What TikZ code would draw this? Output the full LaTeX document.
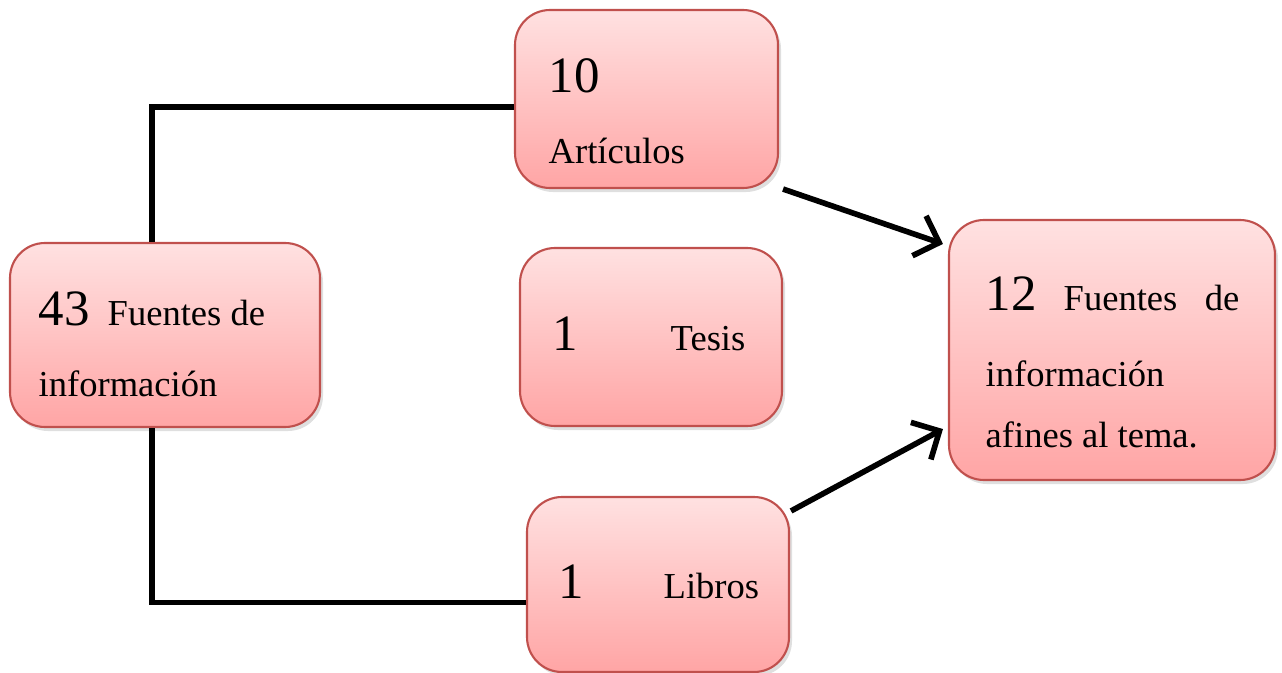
\documentclass[tikz,border=0pt]{standalone}
\usepackage{xcolor}
\usepackage{fontspec}
\setmainfont{Liberation Serif}
\usepackage{tikz}
\usetikzlibrary{arrows.meta,shadows}

\definecolor{boxtop}{HTML}{FFE1E1}
\definecolor{boxbottom}{HTML}{FFA5A5}
\definecolor{boxline}{HTML}{C0504D}

\tikzset{
  caja/.style={draw=boxline, line width=0.6pt, rounded corners=0.35cm,
    top color=boxtop, bottom color=boxbottom,
    drop shadow={shadow xshift=0.03cm, shadow yshift=-0.04cm, opacity=0.25},
    inner sep=0pt},
  txt/.style={anchor=base west, inner sep=0pt, font=\fontsize{10.4}{12}\selectfont},
  num/.style={anchor=base west, inner sep=0pt, font=\fontsize{14.5}{16}\selectfont},
  enlace/.style={line width=1.6pt, black},
  flecha/.style={line width=1.6pt, black, -{Straight Barb[length=6pt,width=12pt,line width=1.6pt]}}
}

\begin{document}
\begin{tikzpicture}
    \useasboundingbox (0,0) rectangle (12.82,6.72);

    % Boxes
    \node[caja, minimum width=3.10cm, minimum height=1.84cm] (fuentes) at (1.65,3.37) {};
    \node[caja, minimum width=2.63cm, minimum height=1.78cm] (articulos) at (6.465,5.73) {};
    \node[caja, minimum width=2.62cm, minimum height=1.78cm] (tesis) at (6.51,3.35) {};
    \node[caja, minimum width=2.62cm, minimum height=1.75cm] (libros) at (6.58,0.875) {};
    \node[caja, minimum width=3.26cm, minimum height=2.60cm] (afines) at (11.12,3.22) {};

    % Texts of the boxes
    \node[num] (fuentes-n) at (0.38,3.47) {43};
    \node[txt] (fuentes-t) at (1.07,3.47) {Fuentes de};
    \node[txt] (fuentes-t2) at (0.38,2.76) {información};

    \node[num] (articulos-n) at (5.48,5.79) {10};
    \node[txt] (articulos-t) at (5.48,5.09) {Artículos};

    \node[num] (tesis-n) at (5.52,3.22) {1};
    \node[txt] (tesis-t) at (6.70,3.22) {Tesis};

    \node[num] (libros-n) at (5.58,0.74) {1};
    \node[txt] (libros-t) at (6.63,0.74) {Libros};

    \node[num] (afines-n) at (9.85,3.62) {12};
    \node[txt] (afines-t) at (10.63,3.62) {Fuentes};
    \node[txt, anchor=base east] (afines-de) at (12.40,3.62) {de};
    \node[txt] (afines-t2) at (9.85,2.86) {información};
    \node[txt] (afines-t3) at (9.85,2.25) {afines al tema.};

    % Connectors
    \draw[enlace] ([xshift=-0.13cm]fuentes.north) |- ([yshift=-0.08cm]articulos.west);
    \draw[enlace] ([xshift=-0.13cm]fuentes.south) |- ([yshift=-0.18cm]libros.west);

    % Arrows to the selected sources
    \draw[flecha] ([xshift=0.04cm]articulos.south east) -- ([xshift=-0.05cm,yshift=-0.25cm]afines.north west);
    \draw[flecha] ([xshift=0.01cm,yshift=-0.15cm]libros.north east) -- ([xshift=-0.05cm,yshift=0.52cm]afines.south west);
\end{tikzpicture}
\end{document}
